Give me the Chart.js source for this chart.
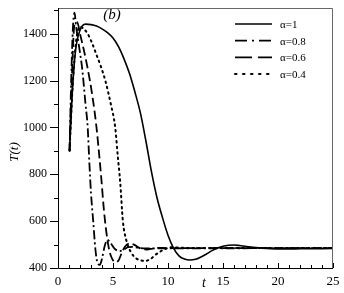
<!DOCTYPE html>
<html>
<head>
<meta charset="utf-8">
<script src="https://cdn.jsdelivr.net/npm/chart.js@4"></script>
<style>
  html, body { margin: 0; padding: 0; background: #fff; }
  #wrap { width: 344px; height: 293px; position: relative; }
</style>
</head>
<body>
<div id="wrap"><canvas id="chart"></canvas></div>
<script>
// T(t) for different fractional orders alpha
const tAlpha1 = [1.05, 1.3, 1.6, 2, 2.5, 3, 3.5, 4, 4.5, 5, 5.5, 6, 6.5, 7, 7.5, 8, 8.5, 9, 9.5, 10, 10.5, 11, 11.5, 12, 12.5, 13, 13.5, 14, 14.5, 15, 15.5, 16, 16.5, 17, 18, 19, 20, 21, 22, 25];
const yAlpha1 = [900, 1150, 1330, 1415, 1441, 1439, 1433, 1421, 1405, 1382, 1345, 1293, 1230, 1150, 1060, 940, 810, 700, 615, 540, 485, 452, 438, 434, 437, 447, 460, 474, 485, 493, 497, 498, 496, 493, 487, 483, 481, 481, 482, 483];

const tAlpha08 = [1.05, 1.2, 1.35, 1.5, 1.65, 1.9, 2.2, 2.5, 2.7, 2.85, 3.0, 3.2, 3.4, 3.6, 3.8, 4.0, 4.25, 4.5, 4.8, 5.2, 5.6, 6.0, 6.4, 6.8, 7.3, 8, 25];
const yAlpha08 = [900, 1200, 1420, 1490, 1430, 1350, 1250, 1100, 1000, 850, 720, 600, 480, 420, 413, 440, 495, 520, 505, 480, 472, 480, 489, 490, 486, 484, 485];

const tAlpha06 = [1.05, 1.25, 1.5, 1.75, 2, 2.4, 2.9, 3.2, 3.5, 3.75, 3.95, 4.15, 4.35, 4.6, 4.85, 5.2, 5.5, 5.8, 6.1, 6.5, 6.9, 7.3, 7.7, 8.1, 8.6, 9, 10, 25];
const yAlpha06 = [900, 1200, 1440, 1450, 1400, 1320, 1200, 1110, 1000, 880, 775, 660, 570, 490, 447, 425, 432, 465, 492, 505, 500, 488, 480, 479, 483, 486, 485, 485];

const tAlpha04 = [1.05, 1.3, 1.6, 2, 2.4, 2.7, 3.1, 3.5, 3.9, 4.3, 4.8, 5.2, 5.45, 5.65, 5.9, 6.2, 6.6, 7, 7.5, 7.9, 8.4, 8.9, 9.3, 9.8, 10.3, 11, 12, 25];
const yAlpha04 = [900, 1150, 1350, 1430, 1418, 1400, 1360, 1310, 1260, 1200, 1100, 1000, 870, 770, 600, 520, 470, 445, 433, 430, 438, 458, 470, 482, 489, 487, 485, 485];

const seriesLabels = ['α=1', 'α=0.8', 'α=0.6', 'α=0.4'];

const xTickValues = [0, 1, 2, 3, 4, 5, 6, 7, 8, 9, 10, 11, 12, 13, 14, 15, 16, 17, 18, 19, 20, 21, 22, 23, 24, 25];
const xTickLabels = [0, 5, 10, 15, 20, 25];
const yTickValues = [400, 500, 600, 700, 800, 900, 1000, 1100, 1200, 1300, 1400, 1500];
const yTickLabels = [400, 600, 800, 1000, 1200, 1400];

const SERIF = '"Liberation Serif", "DejaVu Serif", serif';

function toPoints(xs, ys) {
  return xs.map((x, i) => ({ x, y: ys[i] }));
}

// plot dash vs. legend dash (legend sample is drawn a bit coarser)
const styles = [
  { dash: [], legendDash: [], width: 1.6 },
  { dash: [9, 3, 2, 3], legendDash: [12, 5, 2, 5], width: 1.8 },
  { dash: [9, 4], legendDash: [17, 6], width: 1.8 },
  { dash: [1.5, 4], legendDash: [1.5, 6.5], width: 2 }
];

const datasets = [
  toPoints(tAlpha1, yAlpha1),
  toPoints(tAlpha08, yAlpha08),
  toPoints(tAlpha06, yAlpha06),
  toPoints(tAlpha04, yAlpha04)
].map((data, i) => ({
  label: seriesLabels[i],
  data,
  borderColor: '#000',
  borderWidth: styles[i].width,
  borderDash: styles[i].dash,
  borderCapStyle: i === 3 ? 'round' : 'butt',
  pointRadius: 0,
  fill: false,
  cubicInterpolationMode: 'monotone'
}));

// frame, ticks, legend and text labels
const decor = {
  id: 'decor',
  afterDraw(chart) {
    const ctx = chart.ctx;
    const a = chart.chartArea;
    const xs = chart.scales.x;
    const ys = chart.scales.y;
    ctx.save();

    // top/right frame in grey
    ctx.strokeStyle = '#666';
    ctx.lineWidth = 1;
    ctx.beginPath();
    ctx.moveTo(a.left, a.top + 0.5);
    ctx.lineTo(a.right - 0.5, a.top + 0.5);
    ctx.lineTo(a.right - 0.5, a.bottom);
    ctx.stroke();

    // axes
    ctx.strokeStyle = '#000';
    ctx.beginPath();
    ctx.moveTo(a.left + 0.5, a.top);
    ctx.lineTo(a.left + 0.5, a.bottom + 0.5);
    ctx.lineTo(a.right, a.bottom + 0.5);
    ctx.stroke();

    // x ticks point inward, y ticks outward
    ctx.beginPath();
    xTickValues.forEach(v => {
      const px = Math.round(xs.getPixelForValue(v)) + 0.5;
      const len = xTickLabels.includes(v) ? 5 : 3;
      ctx.moveTo(px, a.bottom);
      ctx.lineTo(px, a.bottom - len);
    });
    yTickValues.forEach(v => {
      const py = Math.round(ys.getPixelForValue(v)) + 0.5;
      const len = yTickLabels.includes(v) ? 8 : 4;
      ctx.moveTo(a.left, py);
      ctx.lineTo(a.left - len, py);
    });
    ctx.stroke();

    // legend
    const lx0 = 235, lx1 = 272, ly0 = 24, lstep = 16.7;
    chart.data.datasets.forEach((ds, i) => {
      const y = ly0 + i * lstep;
      ctx.strokeStyle = '#000';
      ctx.lineWidth = ds.borderWidth;
      ctx.lineCap = ds.borderCapStyle;
      ctx.setLineDash(styles[i].legendDash);
      ctx.beginPath();
      ctx.moveTo(lx0, y);
      ctx.lineTo(lx1, y);
      ctx.stroke();
      ctx.setLineDash([]);
      ctx.fillStyle = '#000';
      ctx.font = '11px ' + SERIF;
      ctx.textAlign = 'left';
      ctx.textBaseline = 'middle';
      ctx.fillText(ds.label, 280, y + 1);
    });

    // panel tag
    ctx.font = 'italic 15px ' + SERIF;
    ctx.textAlign = 'center';
    ctx.textBaseline = 'middle';
    ctx.fillText('(b)', 112, 15);

    // axis titles
    ctx.font = 'italic 14px ' + SERIF;
    ctx.fillText('t', 204, 283);
    ctx.translate(15, 152);
    ctx.rotate(-Math.PI / 2);
    ctx.font = 'italic 13px ' + SERIF;
    ctx.fillText('T(t)', 0, 0);

    ctx.restore();
  }
};

new Chart(document.getElementById('chart'), {
  type: 'line',
  data: { datasets },
  options: {
    responsive: true,
    maintainAspectRatio: false,
    animation: false,
    layout: { padding: { top: 8, right: 11, left: 0, bottom: 0 } },
    plugins: { legend: { display: false }, tooltip: { enabled: false } },
    scales: {
      x: {
        type: 'linear',
        min: 0,
        max: 25,
        afterBuildTicks: s => { s.ticks = xTickLabels.map(v => ({ value: v })); },
        afterFit: s => { s.height = 25; s.paddingLeft = 0; s.paddingRight = 0; },
        grid: { display: false, drawTicks: false },
        border: { display: false },
        ticks: { color: '#000', padding: 6, font: { family: SERIF, size: 13 }, maxRotation: 0, callback: v => String(v) }
      },
      y: {
        type: 'linear',
        min: 400,
        max: 1510,
        afterBuildTicks: s => { s.ticks = yTickLabels.map(v => ({ value: v })); },
        afterFit: s => { s.width = 58; s.paddingTop = 0; s.paddingBottom = 0; },
        grid: { display: false, drawTicks: false },
        border: { display: false },
        ticks: { color: '#000', padding: 11, font: { family: SERIF, size: 12 }, callback: v => String(v) }
      }
    }
  },
  plugins: [decor]
});
</script>
</body>
</html>
